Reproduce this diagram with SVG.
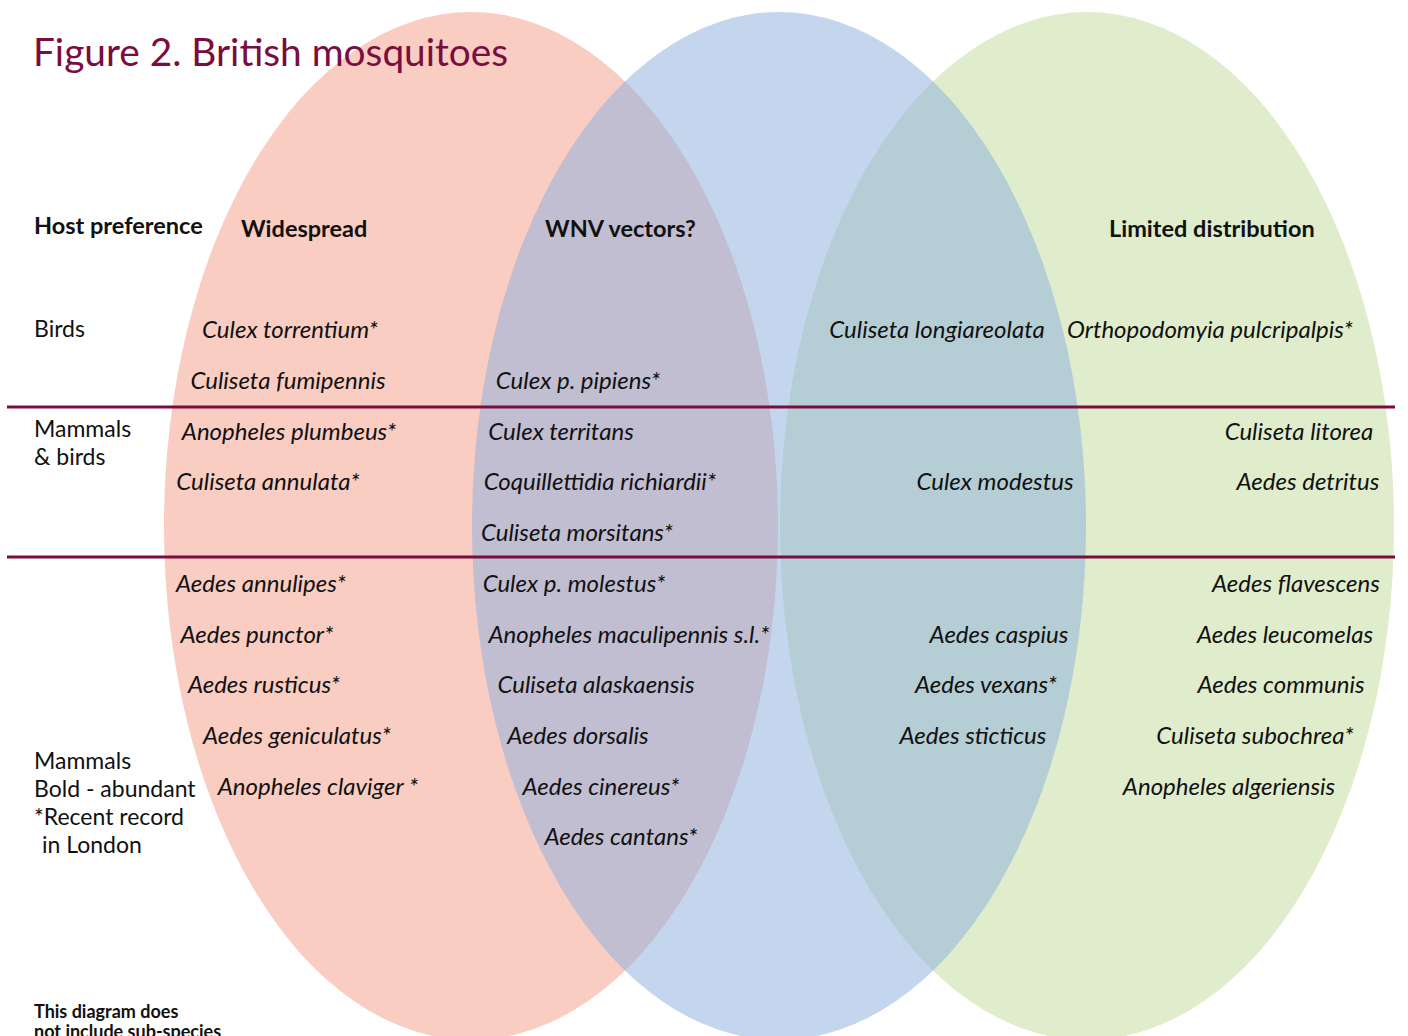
<svg xmlns="http://www.w3.org/2000/svg" width="1408" height="1036" viewBox="0 0 1408 1036">
<style>
text{font-family:Lato,"Open Sans","Liberation Sans",sans-serif;fill:#111}
.sp{font-style:italic;font-size:24px;text-anchor:middle}
.hd{font-weight:bold;font-size:23.5px}
.lb{font-size:23px}
.title{font-size:38.8px;fill:#7a0c40}
.note{font-weight:bold;font-size:18px}
.rule{stroke:#7a0c40;stroke-width:3}
</style>
<rect width="1408" height="1036" fill="#fff"/>
<g id="set-widespread"><ellipse cx="471" cy="526" rx="307" ry="514" fill="#f9cdc2"/></g>
<g id="set-limited"><ellipse cx="1087" cy="526" rx="307" ry="514" fill="#e0edcc"/></g>
<g id="set-wnv"><ellipse cx="779" cy="526" rx="307" ry="514" fill="#8fb1df" fill-opacity="0.53"/></g>
<g id="rules">
<line class="rule" x1="7" y1="407" x2="1395" y2="407"/>
<line class="rule" x1="7" y1="557" x2="1395" y2="557"/>
</g>
<g id="title"><text class="title" x="33" y="66">Figure 2. British mosquitoes</text></g>
<g id="headers">
<text class="hd" x="34" y="234">Host preference</text>
<text class="hd" x="241" y="237">Widespread</text>
<text class="hd" x="545" y="237">WNV vectors?</text>
<text class="hd" x="1109" y="237">Limited distribution</text>
</g>
<g id="host-labels">
<text class="lb" x="34" y="337">Birds</text>
<text class="lb" x="34" y="437">Mammals</text>
<text class="lb" x="34" y="465">&amp; birds</text>
<text class="lb" x="34" y="769">Mammals</text>
<text class="lb" x="34" y="797">Bold - abundant</text>
<text class="lb" x="34" y="825">*Recent record</text>
<text class="lb" x="42" y="853">in London</text>
<text class="note" x="34" y="1018">This diagram does</text>
<text class="note" x="34" y="1038">not include sub-species</text>
</g>
<g id="widespread-species">
<text class="sp" x="290" y="338">Culex torrentium*</text>
<text class="sp" x="288" y="389">Culiseta fumipennis</text>
<text class="sp" x="289" y="440">Anopheles plumbeus*</text>
<text class="sp" x="268" y="490">Culiseta annulata*</text>
<text class="sp" x="261" y="592">Aedes annulipes*</text>
<text class="sp" x="257" y="643">Aedes punctor*</text>
<text class="sp" x="264" y="693">Aedes rusticus*</text>
<text class="sp" x="297" y="744">Aedes geniculatus*</text>
<text class="sp" x="318" y="795">Anopheles claviger *</text>
</g>
<g id="wnv-widespread-species">
<text class="sp" x="578" y="389">Culex p. pipiens*</text>
<text class="sp" x="561" y="440">Culex territans</text>
<text class="sp" x="600" y="490">Coquillettidia richiardii*</text>
<text class="sp" x="577" y="541">Culiseta morsitans*</text>
<text class="sp" x="574" y="592">Culex p. molestus*</text>
<text class="sp" x="629" y="643">Anopheles maculipennis s.l.*</text>
<text class="sp" x="596" y="693">Culiseta alaskaensis</text>
<text class="sp" x="578" y="744">Aedes dorsalis</text>
<text class="sp" x="601" y="795">Aedes cinereus*</text>
<text class="sp" x="621" y="845">Aedes cantans*</text>
</g>
<g id="wnv-limited-species">
<text class="sp" x="937" y="338">Culiseta longiareolata</text>
<text class="sp" x="995" y="490">Culex modestus</text>
<text class="sp" x="999" y="643">Aedes caspius</text>
<text class="sp" x="986" y="693">Aedes vexans*</text>
<text class="sp" x="973" y="744">Aedes sticticus</text>
</g>
<g id="limited-species">
<text class="sp" x="1210" y="338">Orthopodomyia pulcripalpis*</text>
<text class="sp" x="1299" y="440">Culiseta litorea</text>
<text class="sp" x="1308" y="490">Aedes detritus</text>
<text class="sp" x="1296" y="592">Aedes flavescens</text>
<text class="sp" x="1285" y="643">Aedes leucomelas</text>
<text class="sp" x="1281" y="693">Aedes communis</text>
<text class="sp" x="1255" y="744">Culiseta subochrea*</text>
<text class="sp" x="1229" y="795">Anopheles algeriensis</text>
</g>
</svg>
